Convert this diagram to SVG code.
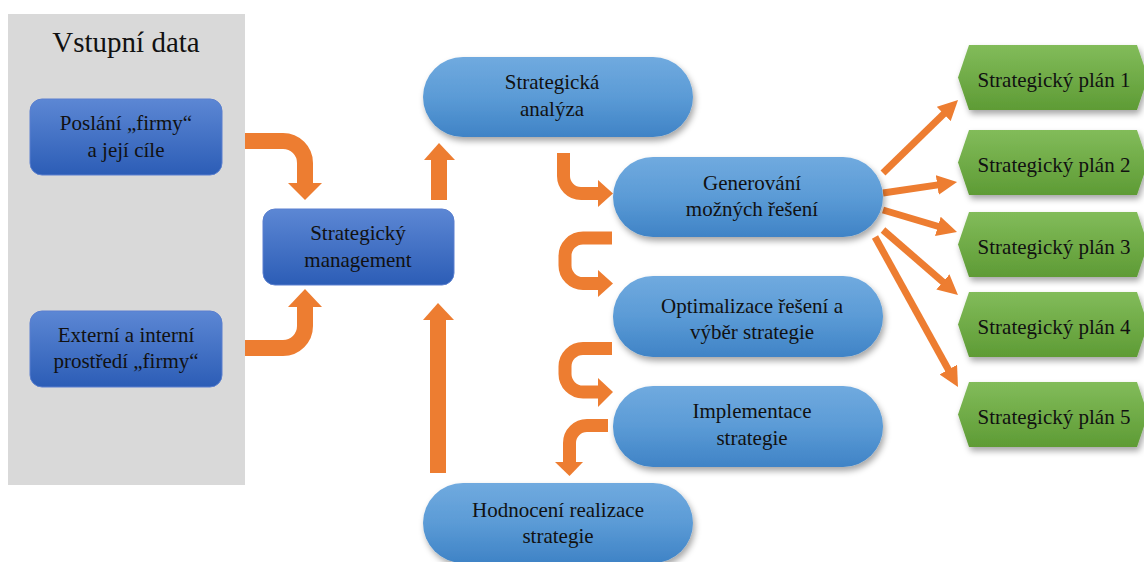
<svg xmlns="http://www.w3.org/2000/svg" width="1144" height="562" viewBox="0 0 1144 562">
<defs>
<linearGradient id="gBox" x1="0" y1="0" x2="0" y2="1"><stop offset="0" stop-color="#5c87d4"/><stop offset="1" stop-color="#2c5db6"/></linearGradient>
<linearGradient id="gPill" x1="0" y1="0" x2="0" y2="1"><stop offset="0" stop-color="#70aadf"/><stop offset="0.5" stop-color="#5b9bd6"/><stop offset="1" stop-color="#3f83c6"/></linearGradient>
<linearGradient id="gPlan" x1="0" y1="0" x2="0" y2="1"><stop offset="0" stop-color="#82bc5a"/><stop offset="1" stop-color="#5e9b35"/></linearGradient>
<filter id="sh" x="-10%" y="-20%" width="125%" height="150%"><feDropShadow dx="2" dy="4" stdDeviation="3" flood-color="#000" flood-opacity="0.35"/></filter>
<marker id="ah" viewBox="0 0 20 20" refX="6" refY="10" markerWidth="20" markerHeight="20" markerUnits="userSpaceOnUse" orient="auto"><path d="M0,0 L20,10 L0,20 z" fill="#ed7d31"/></marker>
</defs>

<g id="panel">
<rect x="8" y="14" width="237" height="471" fill="#d9d9d9"/>
<text x="126" y="52" font-family="Liberation Serif" font-size="29" fill="#111" text-anchor="middle">Vstupní data</text>
</g>

<g id="connectors" fill="#ed7d31">
<g fill="none" stroke="#ed7d31" stroke-width="16">
<path d="M245,141 H283 A22,22 0 0 1 305,163 V184"/>
<path d="M245,348 H283 A22,22 0 0 0 305,326 V306"/>
<path d="M439,200 V159"/>
<path d="M438,473 V319"/>
</g>
<g fill="none" stroke="#ed7d31" stroke-width="13">
<path d="M563.5,153 V176 A17.5,17.5 0 0 0 581,193.5 H600"/>
<path d="M612,238 H583 A18,18 0 0 0 565,256 V265.5 A18,18 0 0 0 583,283.5 H600"/>
<path d="M612,348.5 H583 A18,18 0 0 0 565,366.5 V374 A18,18 0 0 0 583,392 H600"/>
<path d="M608,425.5 H587 A17.5,17.5 0 0 0 569.5,443 V463"/>
</g>
<polygon points="288,183 322,183 305,200"/>
<polygon points="288,307 322,307 305,289"/>
<polygon points="424,160 455,160 439,143"/>
<polygon points="423,320 454,320 438,303"/>
<polygon points="598,180 598,207 613,193.5"/>
<polygon points="598,270 598,297 613,283.5"/>
<polygon points="598,378 598,407 613,392"/>
<polygon points="555,462 583,462 569.5,476"/>
<g stroke="#ed7d31" stroke-width="7" marker-end="url(#ah)">
<line x1="883" y1="173" x2="948" y2="109.8"/>
<line x1="883" y1="193" x2="943.2" y2="184.1"/>
<line x1="883" y1="210" x2="943.6" y2="228"/>
<line x1="883" y1="230" x2="947.4" y2="285.8"/>
<line x1="875" y1="237" x2="951.2" y2="374.8"/>
</g>
</g>

<g font-family="Liberation Serif" font-size="21" fill="#111" text-anchor="middle">
<g id="poslani">
<rect x="30" y="99" width="192" height="76" rx="12" fill="url(#gBox)" stroke="#5a7fcf"/>
<text x="126" y="130">Poslání „firmy“</text>
<text x="126" y="157">a její cíle</text>
</g>

<g id="externi">
<rect x="30" y="311" width="192" height="76" rx="12" fill="url(#gBox)" stroke="#5a7fcf"/>
<text x="126" y="342">Externí a interní</text>
<text x="126" y="368">prostředí „firmy“</text>
</g>

<g id="management">
<rect x="263" y="209" width="191" height="76" rx="12" fill="url(#gBox)" stroke="#5a7fcf"/>
<text x="358" y="240">Strategický</text>
<text x="358" y="267">management</text>
</g>

<g id="analyza">
<rect x="423" y="57" width="270" height="80" rx="40" fill="url(#gPill)" filter="url(#sh)"/>
<text x="552" y="89">Strategická</text>
<text x="552" y="116">analýza</text>
</g>

<g id="generovani">
<rect x="613" y="157" width="270" height="80" rx="40" fill="url(#gPill)" filter="url(#sh)"/>
<text x="752" y="190">Generování</text>
<text x="752" y="216">možných řešení</text>
</g>

<g id="optimalizace">
<rect x="613" y="276" width="270" height="81" rx="40" fill="url(#gPill)" filter="url(#sh)"/>
<text x="752" y="313">Optimalizace řešení a</text>
<text x="752" y="339">výběr strategie</text>
</g>

<g id="implementace">
<rect x="613" y="386" width="270" height="81" rx="40" fill="url(#gPill)" filter="url(#sh)"/>
<text x="752" y="418">Implementace</text>
<text x="752" y="445">strategie</text>
</g>

<g id="hodnoceni">
<rect x="423" y="483" width="270" height="80" rx="40" fill="url(#gPill)" filter="url(#sh)"/>
<text x="558" y="517">Hodnocení realizace</text>
<text x="558" y="543">strategie</text>
</g>

<g id="plan1">
<polygon points="958,77.5 969,45 1137,45 1148,77.5 1137,110 969,110" fill="url(#gPlan)" filter="url(#sh)"/>
<text x="1054" y="87">Strategický plán 1</text>
</g>
<g id="plan2">
<polygon points="958,162.5 969,130 1137,130 1148,162.5 1137,195 969,195" fill="url(#gPlan)" filter="url(#sh)"/>
<text x="1054" y="172">Strategický plán 2</text>
</g>
<g id="plan3">
<polygon points="958,244.5 969,212 1137,212 1148,244.5 1137,277 969,277" fill="url(#gPlan)" filter="url(#sh)"/>
<text x="1054" y="254">Strategický plán 3</text>
</g>
<g id="plan4">
<polygon points="958,324.5 969,292 1137,292 1148,324.5 1137,357 969,357" fill="url(#gPlan)" filter="url(#sh)"/>
<text x="1054" y="334">Strategický plán 4</text>
</g>
<g id="plan5">
<polygon points="958,414.5 969,382 1137,382 1148,414.5 1137,447 969,447" fill="url(#gPlan)" filter="url(#sh)"/>
<text x="1054" y="424">Strategický plán 5</text>
</g>
</g>
</svg>
